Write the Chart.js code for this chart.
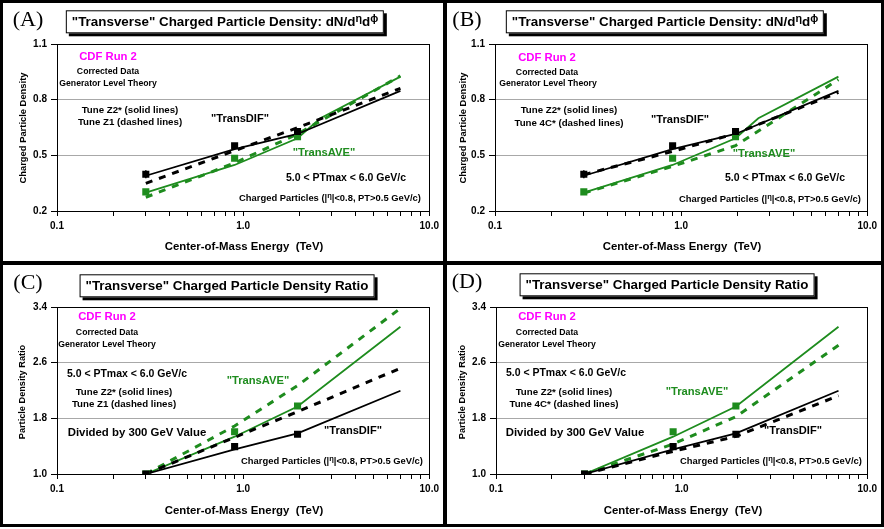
<!DOCTYPE html>
<html>
<head>
<meta charset="utf-8">
<script src="https://cdn.jsdelivr.net/npm/chart.js@4.4.1/dist/chart.umd.min.js"></script>
<style>
  body { margin: 0; background: #fff; font-family: "Liberation Sans", Arial, sans-serif; }
  #page { position: relative; width: 884px; height: 529px; }
  .frame { position: absolute; left: 0; top: 0; width: 884px; height: 527px; background: #000; }
  .panel { position: absolute; background: #fff; }
  canvas { position: absolute; }
  .txt { position: absolute; transform: translate(-50%, -50%); white-space: pre; font-weight: bold; color: #000; line-height: 1; }
  .tag { position: absolute; transform: translate(-50%, -50%); font-family: "Liberation Serif", "Times New Roman", serif; font-size: 22px; line-height: 1; }
  .ttl { position: absolute; transform: translate(-50%, -50%); white-space: pre; font-weight: bold; font-size: 13.4px;
         border: 1px solid #000; box-shadow: 3px 3px 0 #000; background: #fff; padding: 4px 5px 4px 5px; line-height: 1; }
  .sup { font-size: 0.8em; position: relative; top: -0.35em; }
  .ytl { position: absolute; transform: translate(-50%, -50%) rotate(-90deg); white-space: pre; font-weight: bold; line-height: 1; }
</style>
</head>
<body>
<div id="page">
  <div class="frame"></div>
  <div class="panel" style="left:3px;top:3px;width:440px;height:258px"></div>
  <div class="panel" style="left:447px;top:3px;width:434px;height:258px"></div>
  <div class="panel" style="left:3px;top:265px;width:440px;height:259px"></div>
  <div class="panel" style="left:447px;top:265px;width:434px;height:259px"></div>
  <canvas id="cA" width="440" height="258" style="left:3px;top:3px"></canvas>
  <canvas id="cB" width="434" height="258" style="left:447px;top:3px"></canvas>
  <canvas id="cC" width="440" height="259" style="left:3px;top:265px"></canvas>
  <canvas id="cD" width="434" height="259" style="left:447px;top:265px"></canvas>
</div>
<script>
// energies (TeV)
const dataE = [0.3, 0.9, 1.96];
const theoryE = [0.3, 0.9, 1.96, 7];
const z2AveE = [0.3, 0.9, 1.96, 2.6, 7];

// CDF data: charged particle density
const dataDIF = [0.398, 0.552, 0.628];
const dataAVE = [0.303, 0.484, 0.601];
const errDIF = [0.022, 0.008, 0.008];
const errAVE = [0.010, 0.005, 0.005];

// theory: charged particle density
const z2DIF = [0.390, 0.533, 0.615, 0.847];
const z2AVE = [0.299, 0.448, 0.592, 0.700, 0.924];
const z1DIF = [0.349, 0.525, 0.649, 0.861];
const z1AVE = [0.274, 0.459, 0.615, 0.928];
const c4DIF = [0.396, 0.521, 0.617, 0.839];
const c4AVE = [0.296, 0.441, 0.552, 0.908];

// ratios to 300 GeV
const ratioDIF = [1.0, 1.393, 1.570];
const ratioAVE = [1.0, 1.608, 1.977];
const z2DIFr = [1.0, 1.355, 1.585, 2.197];
const z2AVEr = [1.0, 1.536, 1.970, 3.117];
const z1DIFr = [1.0, 1.527, 1.895, 2.520];
const z1AVEr = [1.0, 1.690, 2.270, 3.380];
const c4DIFr = [1.0, 1.326, 1.540, 2.125];
const c4AVEr = [1.0, 1.431, 1.824, 2.850];

// axis ticks
const xTicks = [0.1, 0.2, 0.3, 0.4, 0.5, 0.6, 0.7, 0.8, 0.9, 1, 2, 3, 4, 5, 6, 7, 8, 9, 10];
const xLabels = { 0.1: '0.1', 1: '1.0', 10: '10.0' };
const densTicks = [0.2, 1.1, 0.3];
const ratioTicks = [1.0, 3.4, 0.8];

const GREEN = '#1e8c1e';
const BLACK = '#000';
const FONT = '"Liberation Sans", Arial, sans-serif';

const pts = (xs, ys) => xs.map((x, i) => ({ x: x, y: ys[i] }));

function points(xs, ys, color, errs) {
  return { data: pts(xs, ys), showLine: false, pointStyle: 'rect', pointRadius: 5,
           backgroundColor: color, borderColor: color, borderWidth: 0, errors: errs };
}
function curve(xs, ys, color, dashed) {
  return { data: pts(xs, ys), borderColor: color, borderWidth: dashed ? 3 : 1.8,
           borderDash: dashed ? [7, 7] : [], pointRadius: 0, tension: 0, fill: false };
}

const boxPlugin = {
  id: 'box',
  afterDatasetsDraw(chart) {
    const ctx = chart.ctx, y = chart.scales.y;
    ctx.save();
    chart.data.datasets.forEach((ds, i) => {
      if (!ds.errors) return;
      const meta = chart.getDatasetMeta(i);
      ctx.strokeStyle = ds.borderColor;
      ctx.lineWidth = 1.5;
      meta.data.forEach((el, j) => {
        const v = ds.data[j].y, e = ds.errors[j];
        ctx.beginPath();
        ctx.moveTo(el.x, y.getPixelForValue(v - e));
        ctx.lineTo(el.x, y.getPixelForValue(v + e));
        ctx.stroke();
      });
    });
    const a = chart.chartArea;
    ctx.strokeStyle = '#000';
    ctx.lineWidth = 1;
    ctx.strokeRect(Math.round(a.left) + 0.5, Math.round(a.top) + 0.5,
                   Math.round(a.width), Math.round(a.height));
    ctx.restore();
  }
};

function makeChart(id, yTicks, datasets, pad) {
  const [ymin, ymax, ystep] = yTicks;
  return new Chart(document.getElementById(id), {
    type: 'line',
    data: { datasets: datasets },
    options: {
      responsive: false, animation: false, events: [],
      layout: { padding: { left: 0, top: pad.top, right: pad.right, bottom: 0 } },
      plugins: { legend: { display: false }, tooltip: { enabled: false } },
      scales: {
        x: {
          type: 'logarithmic', min: 0.1, max: 10,
          afterBuildTicks: s => { s.ticks = xTicks.map(v => ({ value: v, major: v in xLabels })); },
          afterFit: s => { s.height = pad.xh; },
          grid: { display: true, drawOnChartArea: false, drawTicks: true, tickLength: 5,
                  color: '#000', tickColor: '#000', tickWidth: 1, lineWidth: 1 },
          border: { color: '#000', width: 1 },
          ticks: {
            autoSkip: false, maxRotation: 0, minRotation: 0, padding: 4, color: '#000',
            font: { family: FONT, size: 10, weight: 'bold' },
            callback: v => xLabels[v] !== undefined ? xLabels[v] : ' '
          }
        },
        y: {
          min: ymin, max: ymax,
          afterFit: s => { s.width = pad.yw; },
          grid: {
            tickLength: 6, tickColor: '#000', tickWidth: 1, lineWidth: 1,
            color: c => (c.index === 0 || c.tick && Math.abs(c.tick.value - ymax) < 1e-6) ? 'rgba(0,0,0,0)' : '#a8a8a8'
          },
          border: { color: '#000', width: 1 },
          ticks: {
            stepSize: ystep, padding: 4, color: '#000',
            font: { family: FONT, size: 10, weight: 'bold' },
            callback: v => Number(v).toFixed(1)
          }
        }
      }
    },
    plugins: [boxPlugin]
  });
}

makeChart('cA', densTicks, [
  points(dataE, dataDIF, BLACK, errDIF),
  points(dataE, dataAVE, GREEN, errAVE),
  curve(theoryE, z2DIF, BLACK, false),
  curve(theoryE, z1DIF, BLACK, true),
  curve(z2AveE, z2AVE, GREEN, false),
  curve(theoryE, z1AVE, GREEN, true)
], { top: 41, right: 11, xh: 50, yw: 54 });

makeChart('cB', densTicks, [
  points(dataE, dataDIF, BLACK, errDIF),
  points(dataE, dataAVE, GREEN, errAVE),
  curve(theoryE, z2DIF, BLACK, false),
  curve(theoryE, c4DIF, BLACK, true),
  curve(z2AveE, z2AVE, GREEN, false),
  curve(theoryE, c4AVE, GREEN, true)
], { top: 41, right: 11, xh: 50, yw: 48 });

makeChart('cC', ratioTicks, [
  points(dataE, ratioDIF, BLACK),
  points(dataE, ratioAVE, GREEN),
  curve(theoryE, z2DIFr, BLACK, false),
  curve(theoryE, z1DIFr, BLACK, true),
  curve(theoryE, z2AVEr, GREEN, false),
  curve(theoryE, z1AVEr, GREEN, true)
], { top: 42, right: 11, xh: 50, yw: 54 });

makeChart('cD', ratioTicks, [
  points(dataE, ratioDIF, BLACK),
  points(dataE, ratioAVE, GREEN),
  curve(theoryE, z2DIFr, BLACK, false),
  curve(theoryE, c4DIFr, BLACK, true),
  curve(theoryE, z2AVEr, GREEN, false),
  curve(theoryE, c4AVEr, GREEN, true)
], { top: 42, right: 11, xh: 50, yw: 49 });

// text overlays
const page = document.getElementById('page');
function put(cls, html, x, y, size, color) {
  const d = document.createElement('div');
  d.className = cls;
  d.innerHTML = html;
  d.style.left = x + 'px';
  d.style.top = y + 'px';
  if (size) d.style.fontSize = size + 'px';
  if (color) d.style.color = color;
  page.appendChild(d);
}
const ETA = '<span class="sup">&eta;</span>';
const densTitle = '"Transverse" Charged Particle Density: dN/d' + ETA + 'd<span class="sup">&#981;</span>';
const ratioTitle = '"Transverse" Charged Particle Density Ratio';
const cuts = 'Charged Particles (|' + ETA + '|&lt;0.8, PT&gt;0.5 GeV/c)';
const ptmax = '5.0 &lt; PTmax &lt; 6.0 GeV/c';
const xTitle = 'Center-of-Mass Energy  (TeV)';

[['(A)', 28, 19], ['(B)', 467, 19], ['(C)', 28, 282], ['(D)', 467, 281]]
  .forEach(t => put('tag', t[0], t[1], t[2]));
put('ttl', densTitle, 225, 22);
put('ttl', densTitle, 665, 22);
put('ttl', ratioTitle, 227, 286);
put('ttl', ratioTitle, 667, 285);

[[244, 247], [682, 247], [244, 511], [683, 511]].forEach(p => put('txt', xTitle, p[0], p[1], 11.4));
put('ytl', 'Charged Particle Density', 23, 128, 9.4);
put('ytl', 'Charged Particle Density', 463, 128, 9.4);
put('ytl', 'Particle Density Ratio', 23, 392, 9.2);
put('ytl', 'Particle Density Ratio', 463, 392, 9.2);

const notes = [
  // panel A
  ['CDF Run 2', 108, 57, 11.3, '#f0f'], ['Corrected Data', 108, 71, 8.7], ['Generator Level Theory', 108, 83, 8.7],
  ['Tune Z2* (solid lines)', 130, 110, 9.7], ['Tune Z1 (dashed lines)', 130, 122, 9.7],
  ['"TransDIF"', 240, 119, 11.1], ['"TransAVE"', 324, 153, 11.2, GREEN],
  [ptmax, 346, 177, 10.5], [cuts, 330, 198, 9.4],
  // panel B
  ['CDF Run 2', 547, 58, 11.3, '#f0f'], ['Corrected Data', 547, 72, 8.7], ['Generator Level Theory', 548, 83, 8.7],
  ['Tune Z2* (solid lines)', 569, 110, 9.7], ['Tune 4C* (dashed lines)', 569, 123, 9.7],
  ['"TransDIF"', 680, 120, 11.1], ['"TransAVE"', 764, 154, 11.2, GREEN],
  [ptmax, 785, 177, 10.5], [cuts, 770, 199, 9.4],
  // panel C
  ['CDF Run 2', 107, 317, 11.3, '#f0f'], ['Corrected Data', 107, 332, 8.7], ['Generator Level Theory', 107, 344, 8.7],
  [ptmax, 127, 373, 10.5], ['"TransAVE"', 258, 381, 11.2, GREEN],
  ['Tune Z2* (solid lines)', 124, 392, 9.7], ['Tune Z1 (dashed lines)', 124, 404, 9.7],
  ['Divided by 300 GeV Value', 137, 433, 11.4], ['"TransDIF"', 353, 431, 11.1], [cuts, 332, 461, 9.4],
  // panel D
  ['CDF Run 2', 547, 317, 11.3, '#f0f'], ['Corrected Data', 547, 332, 8.7], ['Generator Level Theory', 547, 344, 8.7],
  [ptmax, 566, 372, 10.5], ['"TransAVE"', 697, 392, 11.2, GREEN],
  ['Tune Z2* (solid lines)', 564, 392, 9.7], ['Tune 4C* (dashed lines)', 564, 404, 9.7],
  ['Divided by 300 GeV Value', 575, 433, 11.4], ['"TransDIF"', 793, 431, 11.1], [cuts, 771, 461, 9.4]
];
notes.forEach(n => put('txt', n[0], n[1], n[2], n[3], n[4]));
</script>
</body>
</html>
